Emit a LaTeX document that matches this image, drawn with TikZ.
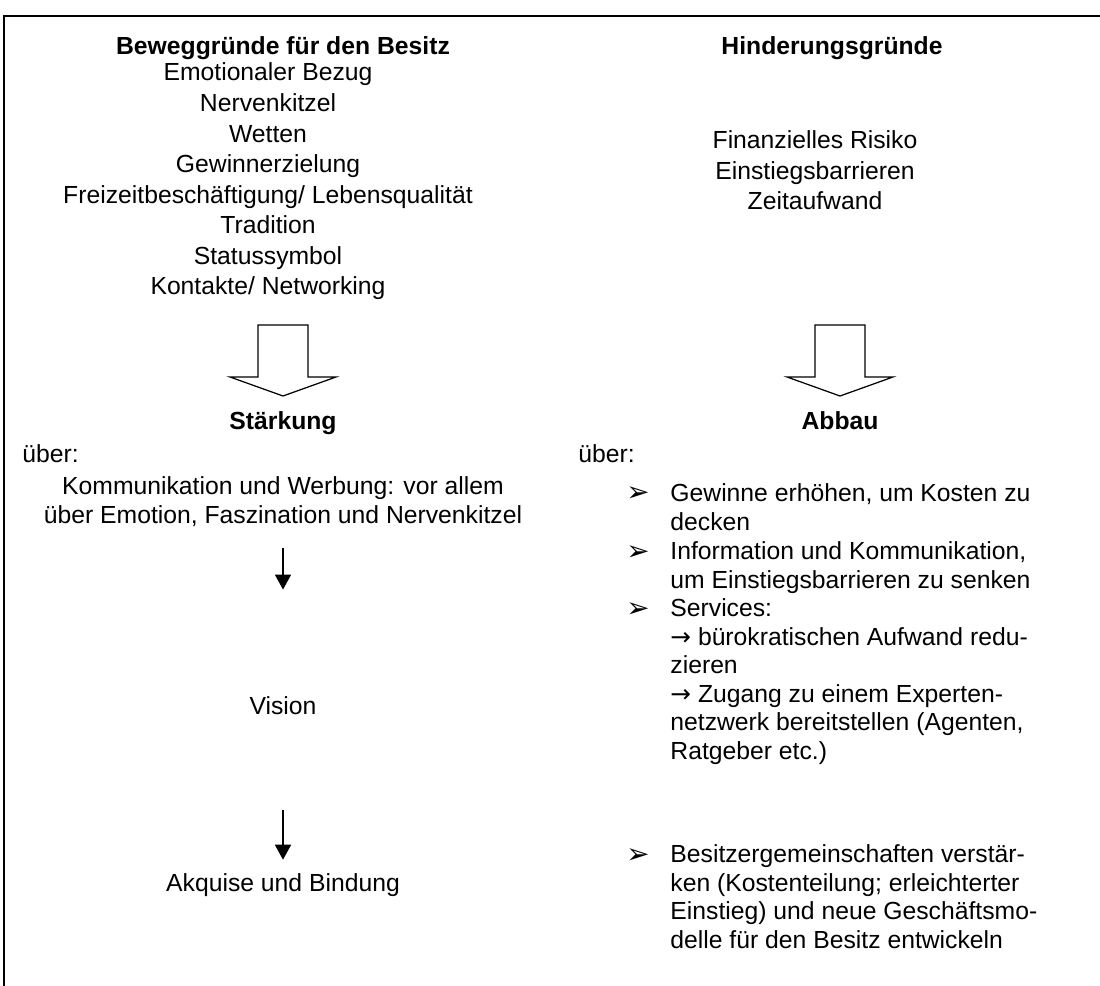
\documentclass[tikz,border=0pt]{standalone}
\usepackage{fontspec}
\setmainfont{Liberation Sans}
\newfontfamily\dejavu{DejaVu Sans}
\usetikzlibrary{arrows.meta}

\begin{document}
\begin{tikzpicture}[x=0.4854pt, y=-0.4854pt,
    txt/.style={inner sep=0pt, font=\fontsize{12}{13.8}\selectfont},
    liste/.style={txt, align=center, anchor=base, font=\fontsize{12}{14.85}\selectfont},
    kopf/.style={txt, anchor=base, font=\fontsize{12}{13.8}\selectfont\bfseries},
    punkt/.style={txt, align=left, anchor=base west},
    pktzeichen/.style={inner sep=0pt, anchor=base west, font=\dejavu\fontsize{13.5}{14}\selectfont},
    pfeil/.style={-{Triangle[length=7.3pt, width=7.8pt]}, line width=0.75pt},
    block/.style={draw, line width=0.6pt, fill=white, line join=miter}]
    \useasboundingbox (0,0) rectangle (1100,986);
    \draw[line width=1pt] (1100,16) -- (4,16) -- (4,986);

    \node[kopf] (beweg) at (283,55) {Beweggründe für den Besitz};
    \node[kopf] (hinder) at (832,55) {Hinderungsgründe};
    \node[liste] (motive) at (268,295) {Emotionaler Bezug\\Nervenkitzel\\Wetten\\Gewinnerzielung\\Freizeitbeschäftigung/ Lebensqualität\\Tradition\\Statussymbol\\Kontakte/ Networking};
    \node[liste] (barrieren) at (815,210) {Finanzielles Risiko\\Einstiegsbarrieren\\Zeitaufwand};

    \foreach \mx in {283,840}
        \draw[block] ({\mx-25},325) -- ({\mx+25},325) -- ({\mx+25},377) -- ({\mx+53},377)
            -- (\mx,396) -- ({\mx-53},377) -- ({\mx-25},377) -- cycle;

    \node[kopf] (staerkung) at (283,430) {Stärkung};
    \node[kopf] (abbau) at (840,430) {Abbau};
    \node[txt, anchor=base west] (ueber-l) at (22,463) {über:};
    \node[txt, anchor=base west] (ueber-r) at (578,463) {über:};

    \node[txt, align=center, anchor=base] (komm) at (283,523) {Kommunikation und Werbung: vor allem\\über Emotion, Faszination und Nervenkitzel};
    \node[txt, anchor=base] (vision) at (283,714) {Vision};
    \node[txt, anchor=base] (akquise) at (283,891) {Akquise und Bindung};
    \draw[pfeil, shorten <=10.2pt, shorten >=51.5pt] (komm) -- (vision);
    \draw[pfeil, shorten <=46.1pt, shorten >=6.3pt] (vision) -- (akquise);

    \node[punkt] (gewinn) at (670,530) {Gewinne erhöhen, um Kosten zu\\decken};
    \node[punkt] (info) at (670,588) {Information und Kommunikation,\\um Einstiegsbarrieren zu senken};
    \node[punkt] (service) at (670,759) {Services:\\{\dejavu →} bürokratischen Aufwand redu-\\zieren\\{\dejavu →} Zugang zu einem Experten-\\netzwerk bereitstellen (Agenten,\\Ratgeber etc.)};
    \node[punkt] (gemeinschaft) at (670,948) {Besitzergemeinschaften verstär-\\ken (Kostenteilung; erleichterter\\Einstieg) und neue Geschäftsmo-\\delle für den Besitz entwickeln};
    \foreach \n/\yb in {gewinn/502,info/560,service/617,gemeinschaft/863}
        \node[pktzeichen] (\n-p) at (626,\yb) {➢};
\end{tikzpicture}
\end{document}
